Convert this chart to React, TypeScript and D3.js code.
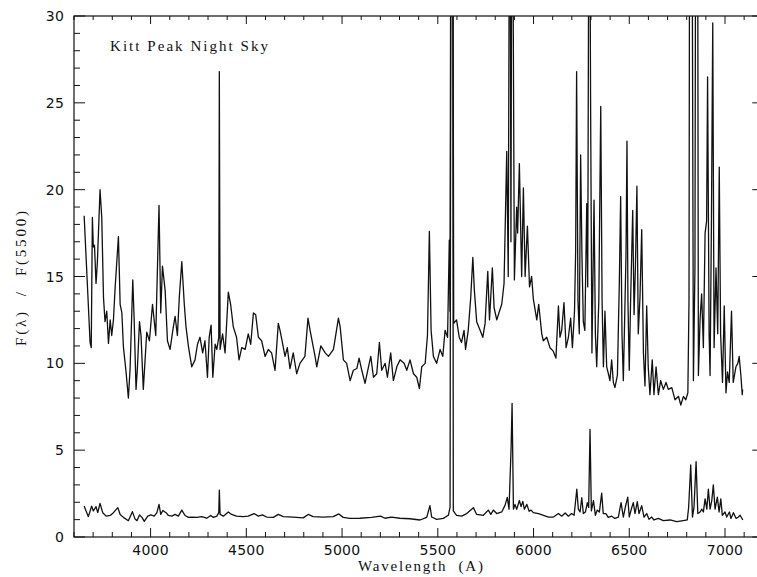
import * as d3 from 'd3'

// upper trace: night sky spectrum, wavelength (A) and F/F(5500)
const skyWave = [
  3653, 3667, 3684, 3690, 3696, 3701, 3707, 3715, 3722, 3736, 3745, 3754, 3762, 3771, 3780, 3789, 3797, 3806,
  3815, 3832, 3841, 3850, 3858, 3871, 3884, 3893, 3907, 3914, 3924, 3931, 3942, 3950, 3962, 3980, 3994, 4010,
  4027, 4044, 4053, 4062, 4076, 4088, 4102, 4116, 4128, 4140, 4150, 4163, 4176, 4185, 4198, 4215, 4232, 4245,
  4258, 4272, 4284, 4297, 4306, 4316, 4325, 4337, 4346, 4356, 4359, 4363, 4376, 4389, 4406, 4418, 4432, 4449,
  4462, 4476, 4494, 4510, 4523, 4537, 4549, 4563, 4580, 4598, 4615, 4632, 4650, 4667, 4676, 4690, 4702, 4714,
  4728, 4745, 4763, 4780, 4806, 4822, 4833, 4859, 4868, 4889, 4912, 4929, 4955, 4968, 4981, 4990, 5007, 5024,
  5042, 5059, 5077, 5089, 5103, 5120, 5138, 5150, 5164, 5181, 5195, 5207, 5225, 5237, 5254, 5268, 5286, 5303,
  5324, 5338, 5355, 5373, 5390, 5404, 5416, 5434, 5446, 5456, 5465, 5477, 5494, 5512, 5526, 5538, 5551, 5560,
  5564, 5569, 5578, 5583, 5598, 5612, 5624, 5637, 5645, 5659, 5672, 5683, 5691, 5703, 5721, 5735, 5747, 5761,
  5770, 5785, 5794, 5808, 5822, 5834, 5846, 5860, 5868, 5876, 5882, 5888, 5900, 5912, 5917, 5926, 5938, 5947,
  5956, 5968, 5979, 5990, 5999, 6017, 6027, 6043, 6051, 6069, 6086, 6103, 6117, 6130, 6138, 6147, 6159, 6170,
  6182, 6194, 6203, 6214, 6220, 6225, 6232, 6239, 6246, 6253, 6260, 6268, 6278, 6283, 6291, 6298, 6305, 6316,
  6323, 6330, 6341, 6351, 6358, 6365, 6373, 6382, 6391, 6399, 6408, 6417, 6425, 6438, 6448, 6455, 6462, 6469,
  6476, 6483, 6488, 6493, 6500, 6507, 6518, 6525, 6532, 6540, 6547, 6556, 6565, 6574, 6582, 6591, 6599, 6608,
  6620, 6629, 6640, 6652, 6664, 6678, 6692, 6704, 6722, 6739, 6757, 6769, 6783, 6795, 6806, 6812, 6816, 6826,
  6835, 6843, 6848, 6856, 6861, 6870, 6878, 6887, 6896, 6904, 6909, 6917, 6922, 6929, 6936, 6943, 6953, 6962,
  6970, 6977, 6987, 6996, 7005, 7013, 7022, 7034, 7043, 7057, 7067, 7074, 7083, 7090, 7092,
]
const skyFlux = [
  18.5, 15.2, 11.2, 10.9, 18.4, 16.7, 16.8, 14.6, 15.8, 20.0, 18.4, 13.8, 12.4, 13.0, 11.15, 12.5, 11.6, 12.5,
  14.4, 17.3, 13.4, 12.9, 10.95, 9.6, 8.0, 9.7, 14.8, 12.6, 8.5, 9.7, 12.4, 11.6, 8.5, 11.8, 11.3, 13.4,
  11.6, 19.1, 12.9, 15.6, 14.2, 11.3, 10.8, 11.9, 12.7, 11.6, 13.8, 15.85, 13.4, 12.1, 10.95, 9.8, 10.2, 11.1,
  11.5, 10.6, 11.3, 9.2, 11.5, 12.2, 9.2, 11.1, 10.8, 11.5, 26.8, 10.8, 11.7, 10.6, 14.1, 13.4, 12.1, 11.5,
  10.2, 10.9, 10.8, 11.7, 11.1, 12.9, 12.8, 11.5, 11.3, 10.4, 10.8, 10.6, 9.6, 12.3, 11.9, 11.1, 10.4, 10.9,
  9.7, 10.6, 9.4, 10.0, 10.4, 12.6, 11.9, 10.4, 9.8, 11.0, 10.6, 10.4, 10.8, 11.7, 12.6, 12.1, 10.2, 10.0,
  9.0, 9.6, 9.7, 10.3, 9.6, 8.85, 9.8, 10.4, 9.2, 9.4, 11.2, 9.6, 10.0, 9.2, 10.6, 9.0, 9.8, 10.2,
  10.0, 9.6, 10.2, 9.4, 9.2, 8.55, 9.8, 10.0, 11.6, 17.6, 11.9, 10.4, 10.0, 10.8, 10.4, 11.9, 11.5, 17.1,
  13.0, 45, 45, 12.3, 12.5, 11.5, 11.2, 11.9, 10.8, 11.9, 13.8, 16.1, 14.2, 12.4, 11.9, 11.5, 12.3, 15.3,
  12.5, 15.5, 13.2, 12.5, 13.0, 13.4, 14.6, 22.2, 15.0, 45, 17.0, 45, 14.8, 19.0, 17.5, 21.5, 15.0, 20.1,
  15.0, 17.9, 14.4, 15.0, 13.7, 12.5, 13.4, 11.7, 11.3, 11.5, 10.9, 10.7, 10.3, 13.3, 11.5, 11.9, 13.5, 10.9,
  11.5, 12.6, 10.9, 13.0, 16.5, 26.8, 13.6, 11.7, 22.0, 16.1, 12.4, 11.9, 19.2, 14.4, 45, 25.0, 10.6, 19.4,
  11.7, 9.8, 13.6, 24.8, 13.6, 9.8, 13.0, 9.8, 9.4, 9.0, 10.2, 8.9, 8.6, 9.3, 14.6, 19.6, 11.7, 9.0,
  12.6, 16.3, 22.8, 13.6, 9.6, 13.6, 18.8, 12.8, 15.5, 20.2, 11.7, 13.8, 17.7, 10.6, 8.7, 13.3, 9.8, 8.2,
  10.2, 8.2, 9.8, 8.2, 9.0, 8.5, 8.9, 8.5, 8.6, 7.9, 8.1, 7.6, 8.1, 7.9, 8.3, 13.6, 45, 45,
  9.0, 15.5, 45, 45, 9.3, 12.6, 14.0, 10.9, 17.5, 18.2, 26.5, 11.7, 9.3, 18.0, 29.6, 10.9, 15.5, 11.7,
  21.3, 11.7, 8.9, 13.3, 8.3, 9.5, 8.9, 13.0, 8.9, 9.8, 10.0, 10.4, 9.3, 8.2, 8.5,
]

// lower trace
const lowWave = [
  3653, 3675, 3692, 3701, 3715, 3724, 3736, 3750, 3768, 3789, 3806, 3829, 3841, 3858, 3884, 3905, 3919, 3929,
  3942, 3955, 3967, 3985, 4002, 4019, 4033, 4044, 4053, 4064, 4081, 4093, 4111, 4128, 4145, 4163, 4180, 4198,
  4215, 4241, 4267, 4293, 4314, 4328, 4346, 4356, 4359, 4363, 4380, 4406, 4423, 4449, 4484, 4510, 4540, 4563,
  4584, 4606, 4641, 4667, 4693, 4745, 4797, 4823, 4849, 4902, 4954, 4983, 5006, 5041, 5093, 5154, 5201, 5224,
  5258, 5302, 5355, 5407, 5442, 5459, 5468, 5494, 5529, 5555, 5564, 5570, 5577, 5581, 5598, 5625, 5651, 5686,
  5703, 5738, 5764, 5777, 5790, 5808, 5834, 5851, 5863, 5872, 5883, 5888, 5895, 5903, 5912, 5926, 5935, 5944,
  5952, 5965, 5977, 5987, 5999, 6026, 6052, 6078, 6104, 6130, 6147, 6165, 6182, 6199, 6212, 6226, 6234, 6243,
  6252, 6260, 6271, 6281, 6288, 6295, 6302, 6313, 6323, 6333, 6344, 6356, 6364, 6378, 6390, 6408, 6425, 6443,
  6457, 6469, 6481, 6492, 6500, 6513, 6521, 6530, 6542, 6551, 6565, 6577, 6591, 6603, 6617, 6629, 6652, 6678,
  6713, 6748, 6782, 6803, 6810, 6821, 6830, 6838, 6849, 6858, 6870, 6879, 6887, 6896, 6905, 6913, 6922, 6931,
  6939, 6948, 6960, 6969, 6978, 6986, 7000, 7009, 7023, 7031, 7044, 7058, 7070, 7079, 7093,
]
const lowFlux = [
  1.78, 1.17, 1.78, 1.5, 1.75, 1.4, 1.94, 1.4, 1.2, 1.24, 1.4, 1.69, 1.3, 1.13, 0.94, 1.46, 1.03, 0.94,
  1.27, 1.13, 0.9, 1.2, 1.27, 1.2, 1.4, 1.88, 1.3, 1.53, 1.4, 1.24, 1.2, 1.3, 1.2, 1.55, 1.24, 1.13,
  1.15, 1.13, 1.17, 1.08, 1.24, 1.13, 1.2, 1.4, 2.7, 1.3, 1.2, 1.44, 1.3, 1.2, 1.17, 1.2, 1.35, 1.2,
  1.27, 1.15, 1.13, 1.3, 1.17, 1.15, 1.1, 1.3, 1.17, 1.15, 1.17, 1.33, 1.13, 1.07, 1.08, 1.13, 1.2, 1.08,
  1.15, 1.08, 1.05, 0.98, 1.13, 1.8, 1.15, 1.02, 1.07, 1.25, 1.7, 45, 45, 1.5, 1.25, 1.2, 1.35, 1.69,
  1.3, 1.25, 1.55, 1.3, 1.55, 1.35, 1.44, 1.82, 2.28, 1.6, 5.2, 7.7, 1.6, 1.88, 1.6, 2.1, 1.75, 2.05,
  1.6, 1.88, 1.48, 1.55, 1.4, 1.35, 1.25, 1.15, 1.15, 1.35, 1.2, 1.38, 1.2, 1.35, 1.25, 2.75, 1.6, 1.44,
  2.26, 1.35, 1.44, 1.98, 1.7, 6.2, 1.5, 2.1, 1.25, 1.55, 1.44, 2.53, 1.35, 1.35, 1.13, 1.2, 1.07, 1.15,
  1.98, 1.15, 1.8, 2.3, 1.15, 1.7, 1.98, 1.35, 2.03, 1.35, 1.8, 1.15, 1.35, 1.02, 1.15, 0.98, 1.07, 0.94,
  0.98, 0.88, 0.94, 0.98, 1.7, 4.15, 1.15, 1.7, 4.34, 1.35, 1.44, 1.6, 1.44, 2.2, 1.6, 2.75, 1.6, 2.1,
  3.0, 1.6, 2.3, 1.44, 2.2, 1.25, 1.44, 1.15, 1.44, 1.07, 1.4, 1.07, 1.15, 1.25, 0.98,
]

const xTickLabels = [4000, 4500, 5000, 5500, 6000, 6500, 7000]
const yTickLabels = [0, 5, 10, 15, 20, 25, 30]

const width = 757
const height = 577
const plot = { left: 74, right: 763.3, top: 16, bottom: 537 }

export default function App() {
  const x = d3.scaleLinear().domain([3600, 7200]).range([plot.left, plot.right])
  const y = d3.scaleLinear().domain([0, 30]).range([plot.bottom, plot.top])

  const line = d3
    .line<[number, number]>()
    .x((d) => x(d[0]))
    .y((d) => y(d[1]))

  const skyPath = line(skyWave.map((w, i) => [w, skyFlux[i]] as [number, number])) ?? ''
  const lowPath = line(lowWave.map((w, i) => [w, lowFlux[i]] as [number, number])) ?? ''

  const xMinor = d3.range(3600, 7201, 100)
  const yMinor = d3.range(0, 31, 1)
  const serif = '"Liberation Serif", "DejaVu Serif", serif'
  const tickFont = '"DejaVu Sans", sans-serif'

  return (
    <div style={{ position: 'fixed', left: 0, top: 0, width, height, background: '#fff' }}>
      <svg width={width} height={height} viewBox={`0 0 ${width} ${height}`} style={{ display: 'block' }}>
        <defs>
          <clipPath id="plot-area">
            <rect x={plot.left} y={plot.top} width={plot.right - plot.left} height={plot.bottom - plot.top} />
          </clipPath>
        </defs>

        <g clipPath="url(#plot-area)" fill="none" stroke="#111" strokeWidth={1.3} strokeLinejoin="round">
          <path d={skyPath} />
          <path d={lowPath} />
        </g>

        <rect
          x={plot.left}
          y={plot.top}
          width={plot.right - plot.left}
          height={plot.bottom - plot.top}
          fill="none"
          stroke="#111"
          strokeWidth={1.2}
        />

        {xMinor.map((t) => {
          const major = t % 500 === 0
          return (
            <g key={`x${t}`} stroke="#111" strokeWidth={1}>
              <line x1={x(t)} x2={x(t)} y1={plot.bottom} y2={plot.bottom - (major ? 9 : 5)} />
              <line x1={x(t)} x2={x(t)} y1={plot.top} y2={plot.top + (major ? 8 : 4)} />
            </g>
          )
        })}

        {yMinor.map((t) => {
          const major = t % 5 === 0
          return (
            <g key={`y${t}`} stroke="#111" strokeWidth={1}>
              <line x1={plot.left} x2={plot.left + (major ? 11 : 6)} y1={y(t)} y2={y(t)} />
              <line x1={plot.right} x2={plot.right - (major ? 11 : 6)} y1={y(t)} y2={y(t)} />
            </g>
          )
        })}

        {xTickLabels.map((t) => (
          <text
            key={`xl${t}`}
            x={x(t)}
            y={plot.bottom + 18}
            textAnchor="middle"
            fontFamily={tickFont}
            fontSize={14}
            letterSpacing={0.2}
            fill="#111"
          >
            {t}
          </text>
        ))}

        {yTickLabels.map((t) => (
          <text
            key={`yl${t}`}
            x={plot.left - 10}
            y={y(t) + 5}
            textAnchor="end"
            fontFamily={tickFont}
            fontSize={14}
            letterSpacing={0.2}
            fill="#111"
          >
            {t}
          </text>
        ))}

        <text
          x={110}
          y={51}
          fontFamily={serif}
          fontSize={15}
          textLength={158}
          lengthAdjust="spacing"
          fill="#111"
        >
          Kitt Peak Night Sky
        </text>

        <text
          x={358}
          y={571}
          fontFamily={serif}
          fontSize={15}
          textLength={125}
          lengthAdjust="spacing"
          fill="#111"
          style={{ whiteSpace: 'pre' }}
        >
          {'Wavelength  (A)'}
        </text>

        <text
          transform={`translate(25.5, ${(plot.top + plot.bottom) / 2 + 2}) rotate(-90)`}
          textAnchor="middle"
          fontFamily={serif}
          fontSize={15}
          textLength={135}
          lengthAdjust="spacing"
          fill="#111"
          style={{ whiteSpace: 'pre' }}
        >
          {'F(λ)  /  F(5500)'}
        </text>
      </svg>
    </div>
  )
}
